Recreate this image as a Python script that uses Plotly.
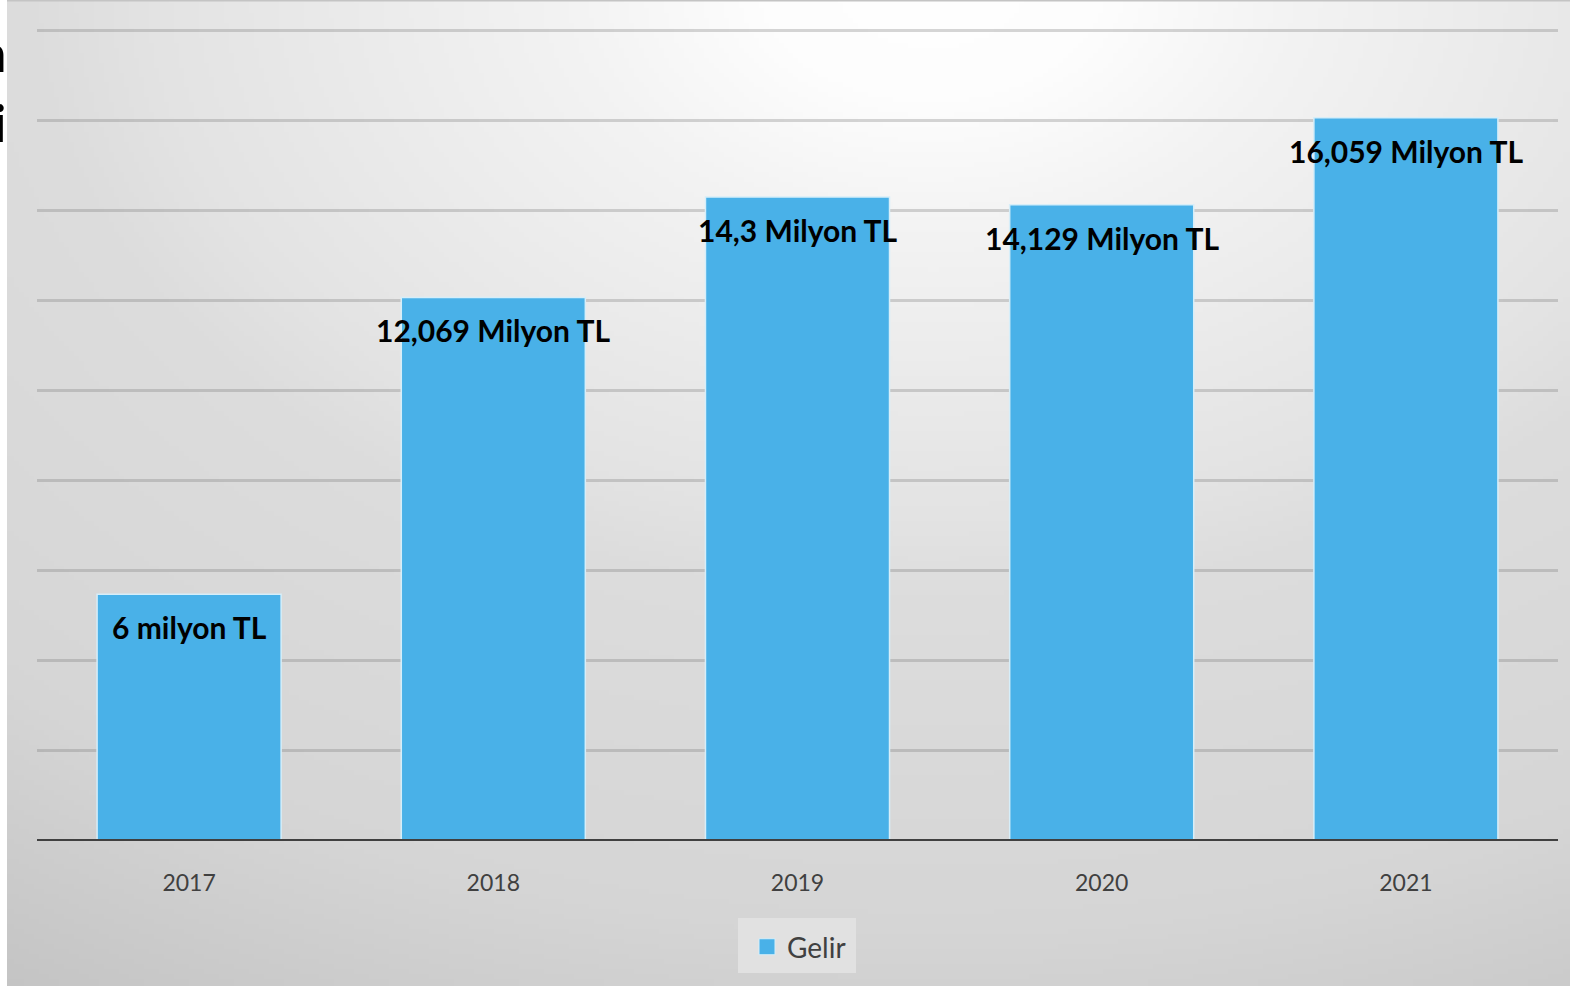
import base64
import struct
import zlib

import numpy as np
import plotly.graph_objects as go

years = ["2017", "2018", "2019", "2020", "2021"]
gelir = [5.48, 12.069, 14.3, 14.129, 16.059]
labels = ["6 milyon TL", "12,069 Milyon TL", "14,3 Milyon TL", "14,129 Milyon TL", "16,059 Milyon TL"]
series_name = "Gelir"

W, H = 1570, 986
ML, MR, MT, MB = 37, 12, 29, 145
PW, PH = W - ML - MR, H - MT - MB


def px(x):
    return (x - ML) / PW


def py(y):
    return (H - MB - y) / PH


def gradient_png():
    """Decorative radial background (light at top centre, grey at the bottom)."""
    scale = 5
    gw, gh = (W - 7) // scale + 1, H // scale + 1
    xs = 7 + np.arange(gw) * scale
    ys = np.arange(gh) * scale
    X, Y = np.meshgrid(xs, ys)
    cx, cy, sx = 930.0, -20.0, 1.45
    d = np.sqrt(((X - cx) / sx) ** 2 + (Y - cy) ** 2)
    f = np.interp(d, [0, 120, 250, 540, 620, 950, 1200], [1.0, 0.97, 0.8, 0.53, 0.42, 0.3, 0.0])
    img = np.clip(196 + 59 * f, 0, 255).astype(np.uint8)
    raw = b"".join(b"\x00" + row.tobytes() for row in img)

    def chunk(tag, data):
        c = struct.pack(">I", len(data)) + tag + data
        return c + struct.pack(">I", zlib.crc32(tag + data) & 0xFFFFFFFF)

    png = b"\x89PNG\r\n\x1a\n" + chunk(b"IHDR", struct.pack(">IIBBBBB", gw, gh, 8, 0, 0, 0, 0)) \
        + chunk(b"IDAT", zlib.compress(raw, 9)) + chunk(b"IEND", b"")
    return "data:image/png;base64," + base64.b64encode(png).decode()


pos = list(range(len(years)))
BAR_COLOR = "#49b1e8"

fig = go.Figure()
fig.add_trace(go.Bar(
    x=pos, y=gelir, name=series_name, width=0.605,
    marker=dict(color=BAR_COLOR, line=dict(color="#d6eef9", width=1.5)),
    showlegend=False,
))
# legend entry with a larger square swatch
fig.add_trace(go.Scatter(
    x=[None], y=[None], mode="markers", name=series_name,
    marker=dict(symbol="square", size=16, color=BAR_COLOR, line=dict(color="#d6eef9", width=1)),
    showlegend=True,
))

fig.add_layout_image(dict(
    source=gradient_png(), xref="paper", yref="paper",
    x=px(7), y=py(0), sizex=(W - 7) / PW, sizey=H / PH,
    xanchor="left", yanchor="top", sizing="stretch", layer="below",
))

shapes = []
# top border line
shapes.append(dict(type="line", xref="paper", yref="paper", x0=px(7), x1=px(W), y0=py(0.5), y1=py(0.5),
                   line=dict(color="#c4c4c4", width=2), layer="below"))
# legend box
shapes.append(dict(type="rect", xref="paper", yref="paper", x0=px(738), x1=px(856), y0=py(973), y1=py(918),
                   fillcolor="rgba(226,226,226,0.9)", line=dict(width=0), layer="below"))
# baseline
shapes.append(dict(type="line", xref="paper", yref="y", x0=0, x1=1, y0=0, y1=0,
                   line=dict(color="#404040", width=4), layer="above"))

annotations = []
for p, v, t in zip(pos, gelir, labels):
    annotations.append(dict(x=p, y=v, xref="x", yref="y", text=t, showarrow=False,
                            yanchor="top", yshift=-13,
                            font=dict(family="Lato", size=30, color="black", weight="bold")))
# cut-off title fragments at the left edge
annotations.append(dict(xref="paper", yref="paper", x=px(8), y=py(52), text="n", showarrow=False,
                        xanchor="right", yanchor="middle",
                        font=dict(family="Lato", size=52, color="black", weight="bold")))
annotations.append(dict(xref="paper", yref="paper", x=px(8), y=py(122), text="i", showarrow=False,
                        xanchor="right", yanchor="middle",
                        font=dict(family="Lato", size=52, color="black", weight="bold")))

fig.update_layout(
    width=W, height=H,
    margin=dict(l=ML, r=MR, t=MT, b=MB),
    paper_bgcolor="white",
    plot_bgcolor="rgba(0,0,0,0)",
    shapes=shapes,
    annotations=annotations,
    xaxis=dict(type="linear", range=[-0.5, 4.5], tickvals=pos, ticktext=years,
               showgrid=False, showline=False, ticks="", zeroline=False,
               ticklabelstandoff=26,
               tickfont=dict(family="Lato", size=23, color="#404040")),
    yaxis=dict(range=[0, 18.03], dtick=2, showgrid=True, gridcolor="rgba(120,120,120,0.3)", gridwidth=3,
               showticklabels=False, zeroline=False, showline=False),
    legend=dict(orientation="h", x=px(747), xanchor="left", y=-0.0998, yanchor="top",
                bgcolor="rgba(0,0,0,0)", font=dict(family="Lato", size=28, color="#404040"),
                itemwidth=30),
    font=dict(family="Lato"),
)

fig.write_html("out.html", config={"displayModeBar": False},
               post_script="document.body.style.margin='0';document.body.style.overflow='hidden';")
